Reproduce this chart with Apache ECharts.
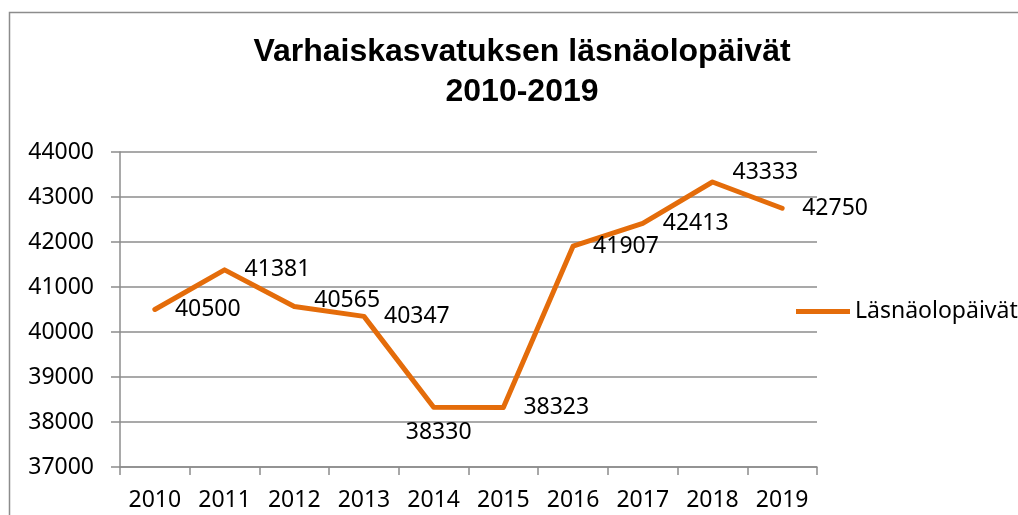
<!DOCTYPE html>
<html>
<head>
<meta charset="utf-8">
<script src="https://cdn.jsdelivr.net/npm/echarts@6/dist/echarts.min.js"></script>
<style>
  html, body { margin: 0; padding: 0; background: #fff; }
  #chart { width: 1018px; height: 515px; }
</style>
</head>
<body>
<div id="chart"></div>
<script>
var years = ['2010', '2011', '2012', '2013', '2014', '2015', '2016', '2017', '2018', '2019'];
var paivat = [40500, 41381, 40565, 40347, 38330, 38323, 41907, 42413, 43333, 42750];
var yMin = 37000, yMax = 44000, yStep = 1000;

var lineColor = '#E46C0A';
var gridColor = '#8C8C8C';
var font = '"Noto Sans", sans-serif';

// Excel puts most labels to the right, a couple were nudged by hand
var labelTweaks = {
    '2012': { offset: [0, -6] },
    '2014': { position: 'bottom', distance: 14, offset: [5, 0] },
    '2018': { offset: [0, -10] }
};

var seriesData = [];
for (var i = 0; i < years.length; i++) {
    var item = { value: paivat[i] };
    if (labelTweaks[years[i]]) {
        item.label = labelTweaks[years[i]];
    }
    seriesData.push(item);
}

var chart = echarts.init(document.getElementById('chart'));
var option = {
    backgroundColor: '#FFFFFF',
    animation: false,
    title: {
        text: 'Varhaiskasvatuksen läsnäolopäivät\n2010-2019',
        left: 517,
        top: 27,
        textAlign: 'center',
        textStyle: {
            fontFamily: '"Liberation Sans", Arial, sans-serif',
            fontWeight: 'bold',
            fontSize: 32,
            lineHeight: 40,
            color: '#000'
        }
    },
    legend: {
        data: ['Läsnäolopäivät'],
        orient: 'vertical',
        left: 796,
        top: 300,
        padding: 0,
        itemWidth: 54,
        itemHeight: 5,
        itemGap: 0,
        icon: 'rect',
        textStyle: { fontFamily: font, fontSize: 23, color: '#000' }
    },
    grid: {
        left: 120,
        right: 201,
        top: 152,
        bottom: 48
    },
    xAxis: {
        type: 'category',
        data: years,
        boundaryGap: true,
        axisLine: { lineStyle: { color: gridColor, width: 1.5 } },
        axisTick: { show: true, length: 8, inside: false, lineStyle: { color: gridColor, width: 1.5 } },
        axisLabel: { fontFamily: font, fontSize: 23, color: '#000', margin: 22, interval: 0 }
    },
    yAxis: {
        type: 'value',
        min: yMin,
        max: yMax,
        interval: yStep,
        axisLine: { show: true, lineStyle: { color: gridColor, width: 1.5 } },
        axisTick: { show: true, length: 9, lineStyle: { color: gridColor, width: 1.5 } },
        axisLabel: {
            fontFamily: font, fontSize: 23, color: '#000', margin: 26,
            formatter: function (v) { return String(v); }
        },
        splitLine: { lineStyle: { color: gridColor, width: 1.5 } }
    },
    graphic: [{
        type: 'rect',
        shape: { x: 9.5, y: 12.5, width: 1040, height: 540 },
        style: { fill: 'none', stroke: '#8C8C8C', lineWidth: 1.5 },
        silent: true
    }],
    series: [{
        name: 'Läsnäolopäivät',
        type: 'line',
        data: seriesData,
        symbol: 'circle',
        symbolSize: 0.1,
        showSymbol: true,
        lineStyle: { color: lineColor, width: 5, cap: 'round', join: 'round' },
        itemStyle: { color: lineColor },
        label: {
            show: true,
            position: 'right',
            distance: 20,
            fontFamily: font,
            fontSize: 23,
            color: '#000'
        }
    }]
};
chart.setOption(option);
</script>
</body>
</html>
